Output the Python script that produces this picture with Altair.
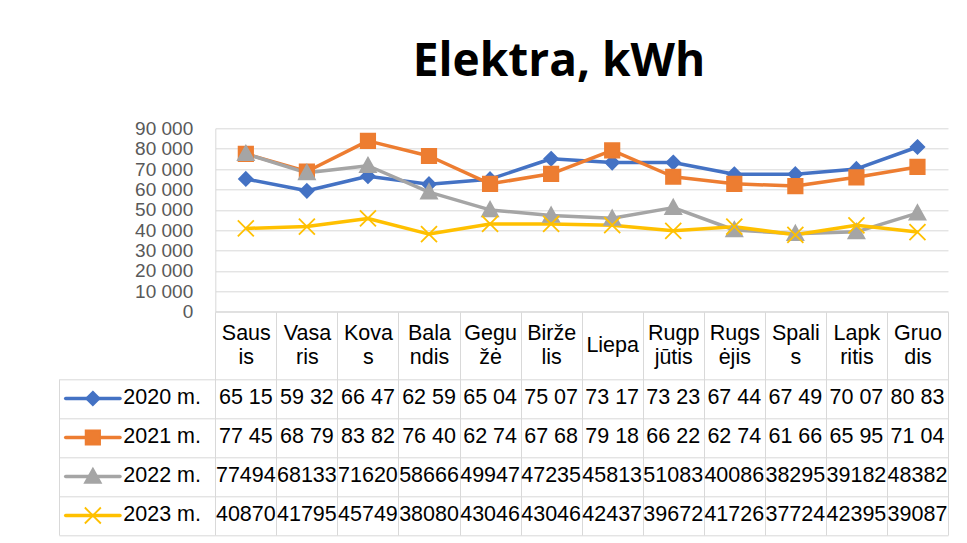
import altair as alt
import pandas as pd

# ---------------- data ----------------
months = ["Sausis", "Vasaris", "Kovas", "Balandis", "Gegužė", "Birželis",
          "Liepa", "Rugpjūtis", "Rugsėjis", "Spalis", "Lapkritis", "Gruodis"]
month_wrapped = ["Saus|is", "Vasa|ris", "Kova|s", "Bala|ndis", "Gegu|žė", "Birže|lis",
                 "Liepa", "Rugp|jūtis", "Rugs|ėjis", "Spali|s", "Lapk|ritis", "Gruo|dis"]
series = ["2020 m.", "2021 m.", "2022 m.", "2023 m."]

v2020 = [65150, 59320, 66470, 62590, 65040, 75070, 73170, 73230, 67440, 67490, 70070, 80830]
v2021 = [77450, 68790, 83820, 76400, 62740, 67680, 79180, 66220, 62740, 61660, 65950, 71040]
v2022 = [77494, 68133, 71620, 58666, 49947, 47235, 45813, 51083, 40086, 38295, 39182, 48382]
v2023 = [40870, 41795, 45749, 38080, 43046, 43046, 42437, 39672, 41726, 37724, 42395, 39087]
values = [v2020, v2021, v2022, v2023]
# rows shown in the data table with a thousands separator (clipped by the cell width)
grouped = [True, True, False, False]

y_ticks = list(range(0, 90001, 10000))

colors = ["#4472C4", "#ED7D31", "#A5A5A5", "#FFC000"]
shapes = ["M0,-0.85L0.85,0L0,0.85L-0.85,0Z",
          "M-0.9,-0.9H0.9V0.9H-0.9Z",
          "M0,-1L1,0.8H-1Z",
          "M-1,-1L1,1M1,-1L-1,1"]

# ---------------- tables ----------------
rows = []
for s, vals, g in zip(series, values, grouped):
    for m, v in zip(months, vals):
        label = f"{v:,}".replace(",", " ")[:5] if g else str(v)
        rows.append({"series": s, "month": m, "value": v, "label": label})
df = pd.DataFrame(rows)

parts = ["p0", "p1", "p2"]
ldf = pd.DataFrame([{"series": s, "part": p} for s in series for p in parts])

single_line = [m for m, w in zip(months, month_wrapped) if "|" not in w]

# ---------------- layout ----------------
W, H = 889, 407
LEG_W = 156.3          # width of the legend column of the data table
PLOT_BOTTOM = 183.4    # y of value 0
TABLE_TOP = 250.7
TABLE_BOTTOM = 406.7
GRID = "#D9D9D9"
FONT = "Liberation Sans"
FS = 21.5
LINE_H = 24
TICK_LEN = TABLE_BOTTOM - PLOT_BOTTOM
HEADER_MID = (TABLE_TOP - PLOT_BOTTOM) / 2  # middle of the header row below the axis

xscale = alt.Scale(type="band", domain=months, range=[LEG_W, W], paddingInner=0, paddingOuter=0)
yscale = alt.Scale(domain=[0, 90000], range=[PLOT_BOTTOM, 0], nice=False)
tscale = alt.Scale(type="band", domain=series, range=[TABLE_TOP, TABLE_BOTTOM],
                   paddingInner=0, paddingOuter=0)
cscale = alt.Scale(domain=series, range=colors)
sscale = alt.Scale(domain=series, range=shapes)

wrap_expr = (f"indexof({months!r}, datum.value) < 0 ? '' : "
             f"split({month_wrapped!r}[indexof({months!r}, datum.value)], '|')")

pad_two = HEADER_MID - LINE_H / 2 - TICK_LEN
pad_one = HEADER_MID - TICK_LEN

month_axis = alt.Axis(
    orient="bottom", offset=PLOT_BOTTOM - H, title=None,
    tickBand="extent", tickSize=TICK_LEN, tickColor=GRID,
    domainColor=GRID, grid=False,
    labelExpr=wrap_expr, labelFont=FONT, labelFontSize=FS, labelColor="black",
    labelBaseline="middle", labelLineHeight=LINE_H, labelAngle=0,
    labelPadding={"condition": {"test": f"indexof({single_line!r}, datum.value) >= 0",
                                "value": pad_one},
                  "value": pad_two},
    labelOverlap=False,
)
y_axis = alt.Axis(
    orient="left", offset=-LEG_W, values=y_ticks, title=None,
    grid=True, gridColor=GRID, domainColor=GRID, ticks=False,
    labelExpr="replace(format(datum.value, ','), ',', ' ')",
    labelFont=FONT, labelFontSize=19, labelColor="#595959",
    labelPadding=22.6, labelOverlap=False,
)
table_axis = alt.Axis(
    orient="left", offset=-LEG_W, title=None, labels=False, domain=False,
    ticks=True, tickBand="extent", tickSize=LEG_W, tickColor=GRID,
    grid=True, gridColor=GRID,
)
leg_axis = alt.Axis(orient="left", title=None, labels=False, ticks=False,
                    grid=False, domain=True, domainColor=GRID)

X = alt.X("month:N", scale=xscale, axis=month_axis, bandPosition=0.5, sort=months)

lines = alt.Chart(df).mark_line(strokeWidth=3.5, strokeJoin="round").encode(
    x=X,
    y=alt.Y("value:Q", scale=yscale, axis=y_axis),
    color=alt.Color("series:N", scale=cscale, legend=None),
)
points = alt.Chart(df).mark_point(filled=True, size=256, strokeWidth=1.8, opacity=1).encode(
    x=X,
    y=alt.Y("value:Q", scale=yscale, axis=y_axis),
    color=alt.Color("series:N", scale=cscale, legend=None),
    stroke=alt.Stroke("series:N", scale=cscale, legend=None),
    shape=alt.Shape("series:N", scale=sscale, legend=None),
)
table = alt.Chart(df).mark_text(font=FONT, fontSize=FS, color="black").encode(
    x=X,
    y=alt.Y("series:N", scale=tscale, axis=table_axis, bandPosition=0.5),
    text="label:N",
)

main = alt.layer(alt.layer(lines, points), table).resolve_scale(y="independent")

lx = alt.Scale(type="point", domain=parts, range=[6.7, 61], padding=0)
LY = alt.Y("series:N", scale=tscale, axis=leg_axis, bandPosition=0.5)
leg_line = alt.Chart(ldf).mark_line(strokeWidth=3.5, strokeCap="round").encode(
    x=alt.X("part:N", scale=lx, axis=None),
    y=LY,
    color=alt.Color("series:N", scale=cscale, legend=None),
)
leg_pts = alt.Chart(ldf).transform_filter("datum.part == 'p1'").mark_point(
    filled=True, size=256, strokeWidth=1.8, opacity=1).encode(
    x=alt.X("part:N", scale=lx, axis=None),
    y=LY,
    color=alt.Color("series:N", scale=cscale, legend=None),
    stroke=alt.Stroke("series:N", scale=cscale, legend=None),
    shape=alt.Shape("series:N", scale=sscale, legend=None),
)
leg_txt = alt.Chart(ldf).transform_filter("datum.part == 'p2'").mark_text(
    font=FONT, fontSize=FS, color="black", align="left", dx=3.3).encode(
    x=alt.X("part:N", scale=lx, axis=None),
    y=LY,
    text="series:N",
)
legend = alt.layer(leg_line, leg_pts, leg_txt)

chart = alt.layer(main, legend).resolve_scale(x="independent", y="independent").properties(
    width=W, height=H,
    title=alt.Title("Elektra, kWh", font="Open Sans", fontSize=46, fontWeight="bold",
                    color="black", anchor="middle", frame="group", dx=55.5, offset=33),
    padding={"left": 51, "top": 120.3, "right": 10, "bottom": 5},
    autosize=alt.AutoSizeParams(type="none"),
).configure_view(stroke=None)

chart.save("out.html", embed_options={"renderer": "svg", "actions": False})
